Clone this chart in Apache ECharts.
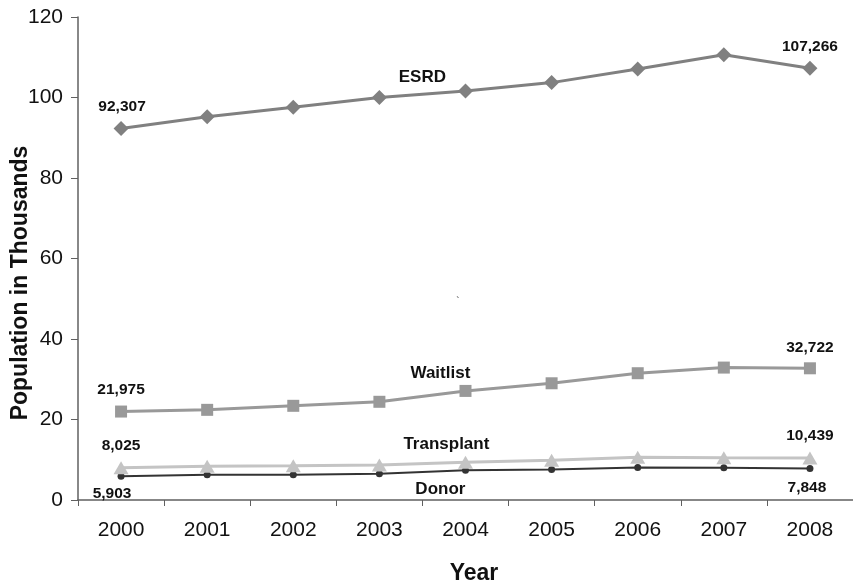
<!DOCTYPE html>
<html>
<head>
<meta charset="utf-8">
<script src="https://cdn.jsdelivr.net/npm/echarts@6/dist/echarts.min.js"></script>
<style>html,body{margin:0;padding:0;background:#fff}#c{width:853px;height:587px}</style>
</head>
<body>
<div id="c"></div>
<script>
const years = ['2000','2001','2002','2003','2004','2005','2006','2007','2008'];
const esrd = [92.307, 95.2, 97.6, 100.0, 101.6, 103.7, 107.1, 110.6, 107.266];
const waitlist = [21.975, 22.4, 23.4, 24.4, 27.1, 29.0, 31.5, 32.9, 32.722];
const transplant = [8.025, 8.4, 8.5, 8.7, 9.4, 9.9, 10.6, 10.5, 10.439];
const donor = [5.903, 6.3, 6.3, 6.5, 7.4, 7.6, 8.1, 8.0, 7.848];
const seriesNames = ['ESRD', 'Waitlist', 'Transplant', 'Donor'];
const yTicks = [0, 20, 40, 60, 80, 100, 120];
const xTitle = 'Year';
const yTitle = 'Population in Thousands';

const FONT = '"Liberation Sans", Arial, Helvetica, sans-serif';
const fmt = v => Math.round(v * 1000).toLocaleString('en-US');

function build(values, name, specs) {
  return values.map((v, i) => {
    const s = specs[i];
    if (!s) return v;
    const isName = s[0] === 'name';
    return {
      value: v,
      label: {
        show: true, position: 'inside', offset: s[1],
        formatter: isName ? name : fmt(v), color: '#111', fontWeight: 'bold',
        fontSize: isName ? 17 : 15.5, fontFamily: FONT
      }
    };
  });
}

const chart = echarts.init(document.getElementById('c'));
const lineSeries = (name, values, color, width, symbol, size, specs) => ({
  name, type: 'line', data: build(values, name, specs),
  symbol, symbolSize: size, showSymbol: true,
  lineStyle: { color, width }, itemStyle: { color },
  emphasis: { disabled: true }, animation: false
});

chart.setOption({
  backgroundColor: '#fff',
  animation: false,
  grid: { left: 78, top: 17, width: 782, height: 483, containLabel: false },
  xAxis: {
    type: 'category', data: years, boundaryGap: true,
    axisLine: { lineStyle: { color: '#606060', width: 1.5 } },
    axisTick: { show: true, length: 6, lineStyle: { color: '#606060' } },
    axisLabel: { color: '#111', fontSize: 21, fontFamily: FONT, margin: 20 },
    splitLine: { show: false }
  },
  yAxis: {
    type: 'value', min: yTicks[0], max: yTicks[yTicks.length - 1], interval: 20,
    axisLine: { show: true, lineStyle: { color: '#606060', width: 1.5 } },
    axisTick: { show: true, length: 7, lineStyle: { color: '#606060' } },
    axisLabel: { color: '#111', fontSize: 21, fontFamily: FONT, margin: 15 },
    splitLine: { show: false }
  },
  graphic: [
    { type: 'text', x: 474, y: 574, style: { text: xTitle, fill: '#111', font: 'bold 23px ' + FONT, textAlign: 'center', textVerticalAlign: 'middle' } },
    { type: 'text', x: 21, y: 283, rotation: Math.PI / 2, style: { text: yTitle, fill: '#111', font: 'bold 23px ' + FONT, textAlign: 'center', textVerticalAlign: 'middle' } },
    { type: 'text', x: 458, y: 302, style: { text: '`', fill: '#333', font: '10px ' + FONT, textAlign: 'center', textVerticalAlign: 'middle' } }
  ],
  series: [
    lineSeries(seriesNames[3], donor, '#333333', 2, 'circle', 7,
      { 0: ['val', [-9, 17]], 3: ['name', [61, 15]], 8: ['val', [-3, 19]] }),
    lineSeries(seriesNames[2], transplant, '#c4c4c4', 3, 'triangle', [15, 13],
      { 0: ['val', [0, -22]], 3: ['name', [67, -21]], 8: ['val', [0, -22]] }),
    lineSeries(seriesNames[1], waitlist, '#999999', 3, 'rect', 12,
      { 0: ['val', [0, -22]], 3: ['name', [61, -28]], 8: ['val', [0, -21]] }),
    lineSeries(seriesNames[0], esrd, '#808080', 3, 'diamond', 15,
      { 0: ['val', [1, -22]], 3: ['name', [43, -20]], 8: ['val', [0, -22]] })
  ]
});
</script>
</body>
</html>
